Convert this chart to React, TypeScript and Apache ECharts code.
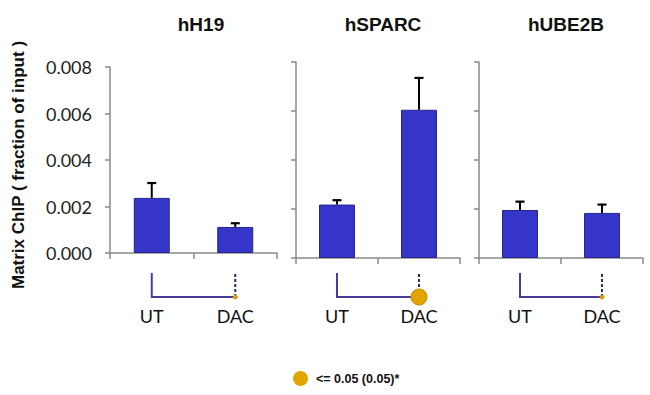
import React, { useEffect, useRef } from "react";
import * as echarts from "echarts";

// ---- data ----
const CATEGORIES = ["UT", "DAC"];
const GENES = ["hH19", "hSPARC", "hUBE2B"];
const H19_MEAN = [0.00237, 0.00112];
const H19_ERR = [0.00064, 0.00016];
const SPARC_MEAN = [0.00218, 0.00605];
const SPARC_ERR = [0.00018, 0.0013];
const UBE2B_MEAN = [0.00196, 0.00184];
const UBE2B_ERR = [0.00034, 0.00034];
const SIGNIFICANT = [false, true, false];
const Y_MIN = 0;
const Y_MAX = 0.008;
const Y_STEP = 0.002;
const Y_TITLE = "Matrix ChIP ( fraction of input )";
const LEGEND_LABEL = "<= 0.05 (0.05)*";

const MEANS = [H19_MEAN, SPARC_MEAN, UBE2B_MEAN];
const ERRS = [H19_ERR, SPARC_ERR, UBE2B_ERR];

// ---- layout ----
const GRIDS = [
  { left: 110, top: 67, width: 167, height: 186 },
  { left: 296, top: 62, width: 164, height: 196 },
  { left: 479, top: 62, width: 164, height: 196 },
];
const TITLE_X = [201, 383, 566];
const BRACKET_TOP = 273;
const BRACKET_BOTTOM = 297;
const LABEL_FONT = "Lato, 'Open Sans', sans-serif";
const BOLD_FONT = "'Liberation Sans', Arial, sans-serif";
const AXIS_GRAY = "#8a8a8a";
const BAR_COLOR = "#3535c9";
const DOT_COLOR = "#e2a500";

export default function App() {
  const ref = useRef<HTMLDivElement>(null);

  useEffect(() => {
    if (!ref.current) return;
    const chart = echarts.init(ref.current, null, { renderer: "svg" });

    const grid = GRIDS.map((g) => ({ ...g, containLabel: false }));

    const xAxis = GRIDS.map((g, i) => ({
      type: "category",
      gridIndex: i,
      data: CATEGORIES,
      boundaryGap: true,
      axisLine: { show: true, lineStyle: { color: AXIS_GRAY, width: 1.5 } },
      axisTick: { show: true, length: 6, lineStyle: { color: AXIS_GRAY, width: 1.5 } },
      axisLabel: {
        show: true,
        margin: BRACKET_TOP - (g.top + g.height) + 34,
        fontFamily: LABEL_FONT,
        fontSize: 18,
        color: "#111",
      },
    }));

    const yAxis = GRIDS.map((g, i) => ({
      type: "value",
      gridIndex: i,
      min: Y_MIN,
      max: Y_MAX,
      interval: Y_STEP,
      splitLine: { show: false },
      axisLine: { show: true, lineStyle: { color: AXIS_GRAY, width: 1.5 } },
      axisTick: { show: true, inside: false, length: 5, lineStyle: { color: AXIS_GRAY, width: 1.5 } },
      axisLabel: {
        show: i === 0,
        margin: 18,
        fontFamily: LABEL_FONT,
        fontSize: 18,
        color: "#222",
        formatter: (v: number) => v.toFixed(3),
      },
    }));

    const series: any[] = [];
    GENES.forEach((gene, i) => {
      series.push({
        type: "bar",
        name: gene,
        xAxisIndex: i,
        yAxisIndex: i,
        data: MEANS[i],
        barWidth: 36,
        itemStyle: { color: BAR_COLOR, borderColor: "#25258c", borderWidth: 1 },
        z: 2,
      });
      series.push({
        type: "custom",
        name: gene + " error",
        xAxisIndex: i,
        yAxisIndex: i,
        z: 3,
        encode: { x: 0, y: 1 },
        data: MEANS[i].map((m, k) => [k, m, ERRS[i][k]]),
        renderItem: (params: any, api: any) => {
          const x = api.value(0);
          const v = api.value(1);
          const e = api.value(2);
          const base = api.coord([x, v]);
          const top = api.coord([x, v + e]);
          return {
            type: "group",
            children: [
              {
                type: "line",
                shape: { x1: base[0], y1: base[1], x2: top[0], y2: top[1] },
                style: { stroke: "#000", lineWidth: 2 },
              },
              {
                type: "line",
                shape: { x1: top[0] - 4.5, y1: top[1], x2: top[0] + 4.5, y2: top[1] },
                style: { stroke: "#000", lineWidth: 2.2 },
              },
            ],
          };
        },
      });
      series.push({
        type: "custom",
        name: LEGEND_LABEL,
        xAxisIndex: i,
        yAxisIndex: i,
        z: 3,
        clip: false,
        encode: { x: 0, y: 1 },
        itemStyle: { color: DOT_COLOR },
        data: [[0, 0, 1, SIGNIFICANT[i] ? 1 : 0]],
        renderItem: (params: any, api: any) => {
          const a = api.coord([api.value(0), 0]);
          const b = api.coord([api.value(2), 0]);
          const sig = api.value(3) === 1;
          return {
            type: "group",
            children: [
              {
                type: "polyline",
                shape: {
                  points: [
                    [a[0], BRACKET_TOP],
                    [a[0], BRACKET_BOTTOM],
                    [b[0], BRACKET_BOTTOM],
                  ],
                },
                style: { stroke: "#453c9c", lineWidth: 2, fill: null },
              },
              {
                type: "line",
                shape: { x1: b[0], y1: BRACKET_BOTTOM, x2: b[0], y2: BRACKET_TOP },
                style: { stroke: "#2e2e5e", lineWidth: 2, lineDash: [3, 2] },
              },
              {
                type: "circle",
                shape: { cx: b[0], cy: BRACKET_BOTTOM, r: sig ? 8 : 2 },
                style: { fill: DOT_COLOR, stroke: "#c48f00", lineWidth: 1 },
              },
            ],
          };
        },
      });
    });

    chart.setOption({
      animation: false,
      backgroundColor: "#ffffff",
      title: GENES.map((g, i) => ({
        text: g,
        left: TITLE_X[i],
        top: 15,
        padding: 0,
        textAlign: "center",
        textStyle: {
          fontFamily: BOLD_FONT,
          fontWeight: "bold",
          fontSize: 19,
          color: "#111",
        },
      })),
      graphic: [
        {
          type: "text",
          x: 18,
          y: 165,
          rotation: Math.PI / 2,
          style: {
            text: Y_TITLE,
            align: "center",
            verticalAlign: "middle",
            fontFamily: BOLD_FONT,
            fontWeight: "bold",
            fontSize: 17,
            fill: "#111",
          },
        },
      ],
      legend: {
        show: true,
        data: [{ name: LEGEND_LABEL, icon: "circle" }],
        left: 293,
        top: 371,
        padding: 0,
        itemWidth: 15,
        itemHeight: 15,
        itemGap: 10,
        selectedMode: false,
        textStyle: {
          fontFamily: BOLD_FONT,
          fontWeight: "bold",
          fontSize: 12.5,
          color: "#111",
          padding: [0, 0, 0, 3],
        },
      },
      grid,
      xAxis,
      yAxis,
      series,
    });

    return () => chart.dispose();
  }, []);

  return (
    <div
      ref={ref}
      style={{ position: "fixed", left: 0, top: 0, width: 650, height: 395 }}
    />
  );
}
